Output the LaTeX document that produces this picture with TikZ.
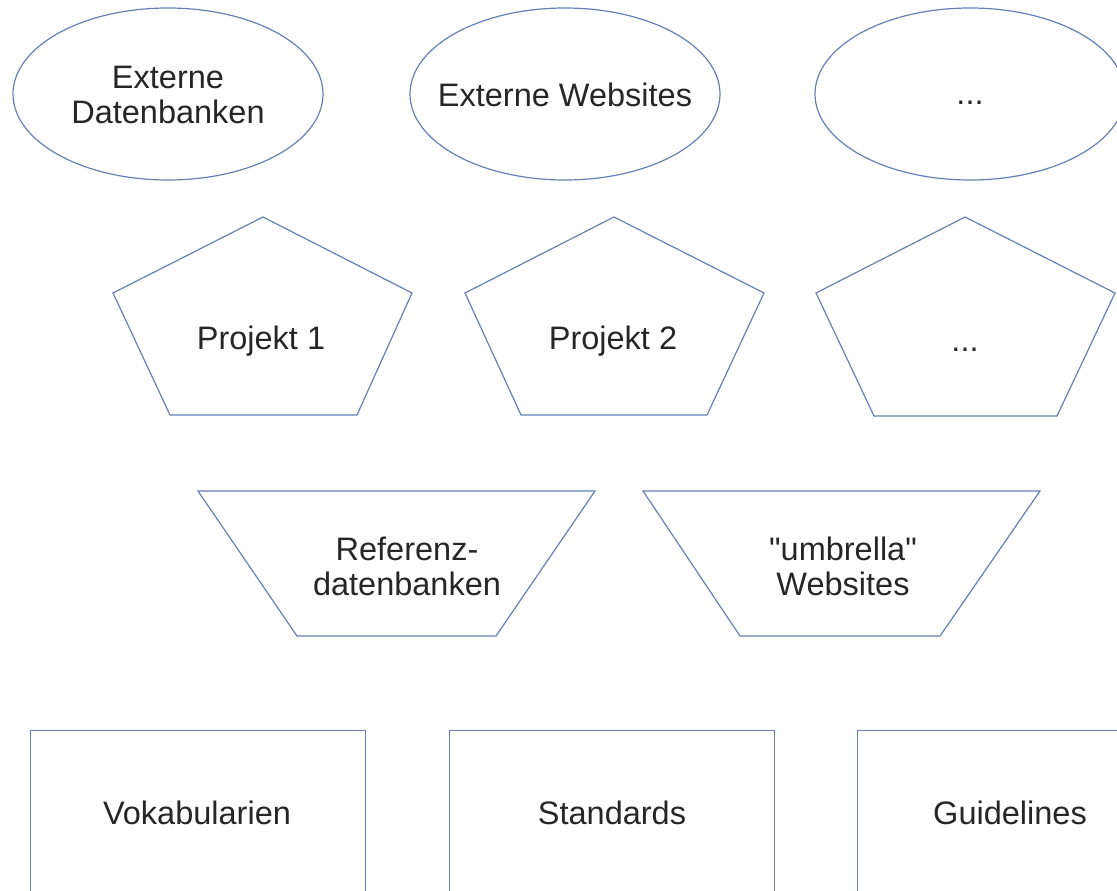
\documentclass[tikz,border=0pt]{standalone}
\usepackage{fontspec}
\setmainfont{Liberation Sans}[Ligatures=TeXOff]
\usetikzlibrary{shapes.geometric}
\definecolor{edge}{RGB}{102,128,180}
\tikzset{
  shape line/.style={draw=edge, line width=1.2pt, line join=miter},
  label text/.style={font=\fontsize{32.5}{35}\selectfont, align=center, text=black!85, inner sep=0pt},
  oval/.style={shape line, ellipse, minimum width=310pt, minimum height=172pt, inner sep=0pt},
  box/.style={shape line, rectangle, minimum width=335pt, minimum height=240pt, inner sep=0pt, anchor=north west},
}
\begin{document}
\begin{tikzpicture}[x=1pt, y=-1pt]
\useasboundingbox (0,0) rectangle (1117,891);
\clip (0,0) rectangle (1117,891);

% sources
\node[oval] (extdb) at (168,94) {};
\node[label text] at (168,95) {Externe\\Datenbanken};
\node[oval] (extweb) at (565,94) {};
\node[label text] at (565,95) {Externe Websites};
\node[oval] (extmore) at (970,94) {};
\node[label text] at (970,103) {...};

% projects
\draw[shape line] (263,217) -- (412,293) -- (357,415) -- (170,415) -- (113,293) -- cycle;
\node[label text] (p1) at (261,341) {Projekt 1};
\draw[shape line] (614,217) -- (764,293) -- (707,415) -- (521,415) -- (465,293) -- cycle;
\node[label text] (p2) at (613,341) {Projekt 2};
\draw[shape line] (965,217) -- (1115,293) -- (1057,416) -- (874,416) -- (816,293) -- cycle;
\node[label text] (p3) at (965,350) {...};

% aggregators
\draw[shape line] (198,491) -- (595,491) -- (496,636) -- (297,636) -- cycle;
\node[label text] (refdb) at (407,566) {Referenz-\\datenbanken};
\draw[shape line] (643,491) -- (1040,491) -- (940,636) -- (740,636) -- cycle;
\node[label text] (umbrella) at (843,566) {\symbol{"22}umbrella\symbol{"22}\\Websites};

% resources
\node[box] (vok) at (30,730) {};
\node[label text] at (197,813) {Vokabularien};
\node[box, minimum width=325pt] (std) at (449,730) {};
\node[label text] at (612,813) {Standards};
\node[box] (guide) at (857,730) {};
\node[label text] at (1010,813) {Guidelines};
\end{tikzpicture}
\end{document}
